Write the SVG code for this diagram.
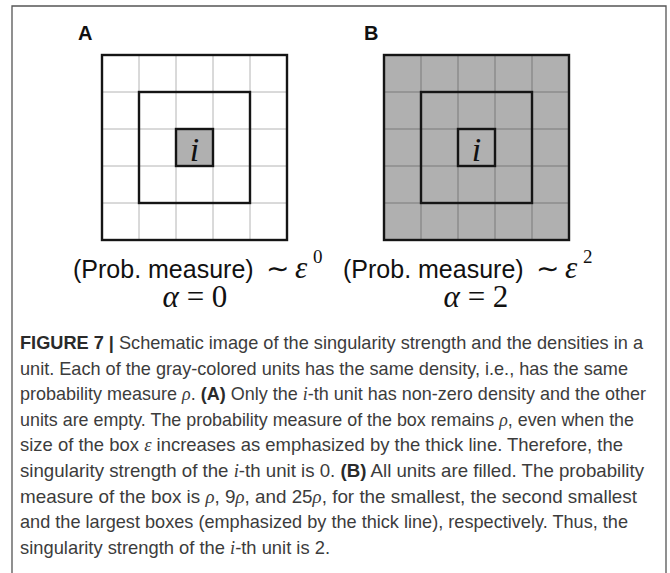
<svg xmlns="http://www.w3.org/2000/svg" width="670" height="573" viewBox="0 0 670 573">
<style>
.frame{fill:none;stroke:#555;stroke-width:1.3}
.gridA{stroke:#b4b4b4;stroke-width:1}
.gridB{stroke:#7a7a7a;stroke-width:1}
.thick{fill:none;stroke:#151515;stroke-width:2.4}
.gray{fill:#b0b0b0}
.panel{font-family:"Liberation Sans",Arial,sans-serif;font-weight:bold;font-size:20px;fill:#111}
.lab{font-family:"Liberation Sans",Arial,sans-serif;font-size:25px;fill:#111}
.math{font-family:"Liberation Serif","Times New Roman",serif;fill:#111}
.it{font-style:italic}
.cap{font-family:"Liberation Sans Narrow","Liberation Sans",Arial,sans-serif;font-size:19px;fill:#3c3c3c}
.b{font-weight:bold;fill:#2a2a2a}
.mi{font-family:"Liberation Serif","Times New Roman",serif;font-style:italic}
</style>
<path class="frame" d="M12,580 V6 H666 V580"/>

<g id="panel-a">
  <text class="panel" x="78" y="40">A</text>
  <rect class="gray" x="176" y="129" width="37" height="37"/>
  <g class="gridA">
    <line x1="139" y1="55" x2="139" y2="240"/>
    <line x1="176" y1="55" x2="176" y2="240"/>
    <line x1="213" y1="55" x2="213" y2="240"/>
    <line x1="250" y1="55" x2="250" y2="240"/>
    <line x1="102" y1="92" x2="287" y2="92"/>
    <line x1="102" y1="129" x2="287" y2="129"/>
    <line x1="102" y1="166" x2="287" y2="166"/>
    <line x1="102" y1="203" x2="287" y2="203"/>
  </g>
  <rect class="thick" x="102" y="55" width="185" height="185"/>
  <rect class="thick" x="139" y="92" width="111" height="111"/>
  <rect class="thick" x="176" y="129" width="37" height="37"/>
  <text class="math it" x="194.5" y="161" font-size="34" text-anchor="middle">i</text>
</g>

<g id="panel-b">
  <text class="panel" x="364" y="40">B</text>
  <rect class="gray" x="384" y="55" width="185" height="185"/>
  <g class="gridB">
    <line x1="421" y1="55" x2="421" y2="240"/>
    <line x1="458" y1="55" x2="458" y2="240"/>
    <line x1="495" y1="55" x2="495" y2="240"/>
    <line x1="532" y1="55" x2="532" y2="240"/>
    <line x1="384" y1="92" x2="569" y2="92"/>
    <line x1="384" y1="129" x2="569" y2="129"/>
    <line x1="384" y1="166" x2="569" y2="166"/>
    <line x1="384" y1="203" x2="569" y2="203"/>
  </g>
  <rect class="thick" x="384" y="55" width="185" height="185"/>
  <rect class="thick" x="421" y="92" width="111" height="111"/>
  <rect class="thick" x="458" y="129" width="37" height="37"/>
  <text class="math it" x="476.5" y="161" font-size="34" text-anchor="middle">i</text>
</g>

<g id="label-a">
  <text class="lab" x="73" y="278">(Prob. measure)</text>
  <text class="math" x="266" y="278" font-size="28">∼</text>
  <text class="math it" x="295" y="278" font-size="31">ε</text>
  <text class="math" x="313" y="263" font-size="19">0</text>
  <text class="math" x="195" y="307" font-size="31" text-anchor="middle"><tspan class="it">α</tspan> = 0</text>
</g>

<g id="label-b">
  <text class="lab" x="343" y="278">(Prob. measure)</text>
  <text class="math" x="536" y="278" font-size="28">∼</text>
  <text class="math it" x="565" y="278" font-size="31">ε</text>
  <text class="math" x="583" y="263" font-size="19">2</text>
  <text class="math" x="476" y="307" font-size="31" text-anchor="middle"><tspan class="it">α</tspan> = 2</text>
</g>

<g id="caption" class="cap">
  <text x="20" y="349" textLength="623" lengthAdjust="spacingAndGlyphs"><tspan class="b">FIGURE 7 |</tspan> Schematic image of the singularity strength and the densities in a</text>
  <text x="20" y="374.6" textLength="608" lengthAdjust="spacingAndGlyphs">unit. Each of the gray-colored units has the same density, i.e., has the same</text>
  <text x="20" y="400.2" textLength="626" lengthAdjust="spacingAndGlyphs">probability measure <tspan class="mi">ρ</tspan>. <tspan class="b">(A)</tspan> Only the <tspan class="mi">i</tspan>-th unit has non-zero density and the other</text>
  <text x="20" y="425.8" textLength="614" lengthAdjust="spacingAndGlyphs">units are empty. The probability measure of the box remains <tspan class="mi">ρ</tspan>, even when the</text>
  <text x="20" y="451.4" textLength="603" lengthAdjust="spacingAndGlyphs">size of the box <tspan class="mi">ε</tspan> increases as emphasized by the thick line. Therefore, the</text>
  <text x="20" y="477" textLength="624" lengthAdjust="spacingAndGlyphs">singularity strength of the <tspan class="mi">i</tspan>-th unit is 0. <tspan class="b">(B)</tspan> All units are filled. The probability</text>
  <text x="20" y="502.6" textLength="617" lengthAdjust="spacingAndGlyphs">measure of the box is <tspan class="mi">ρ</tspan>, 9<tspan class="mi">ρ</tspan>, and 25<tspan class="mi">ρ</tspan>, for the smallest, the second smallest</text>
  <text x="20" y="528.2" textLength="608" lengthAdjust="spacingAndGlyphs">and the largest boxes (emphasized by the thick line), respectively. Thus, the</text>
  <text x="20" y="553.8" textLength="310" lengthAdjust="spacingAndGlyphs">singularity strength of the <tspan class="mi">i</tspan>-th unit is 2.</text>
</g>
</svg>
